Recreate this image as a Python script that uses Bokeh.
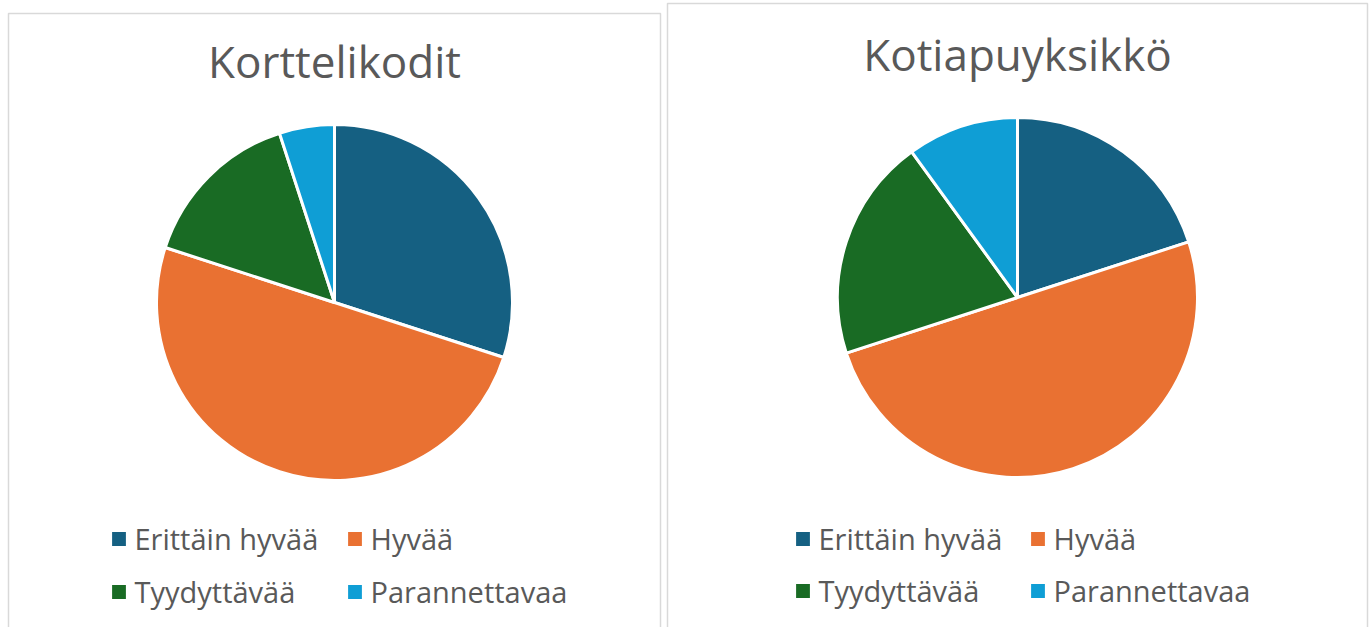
import numpy as np
from bokeh.plotting import figure
from bokeh.models import ColumnDataSource, Legend, LegendItem, Range1d
from bokeh.core.properties import value
from bokeh.embed import file_html
from bokeh.resources import INLINE

# ---- data ----
categories = ["Erittäin hyvää", "Hyvää", "Tyydyttävää", "Parannettavaa"]
colors = ["#156082", "#E97132", "#196B24", "#0F9ED5"]
titles = ["Korttelikodit", "Kotiapuyksikkö"]
korttelikodit = [30, 50, 15, 5]
kotiapuyksikko = [20, 50, 20, 10]

W, H = 1370, 627
p = figure(width=W, height=H, x_range=Range1d(0, W), y_range=Range1d(0, H),
           output_backend="svg", toolbar_location=None, min_border=0)
p.axis.visible = False
p.grid.visible = False
p.outline_line_color = None
p.background_fill_color = "white"
p.border_fill_color = "white"

# panel layout (screen px, y from top)
panels = [
    dict(box=(8, 660, 13), cx=334, cy=302, r=178, tx=334, ty=60,
         leg=(107.5, 343.5), rows=(538, 591)),
    dict(box=(667, 1367, 3), cx=1017, cy=297, r=180, tx=1017, ty=53,
         leg=(791.5, 1026.5), rows=(538, 590)),
]

for vals, title, pn in zip([korttelikodit, kotiapuyksikko], titles, panels):
    l, r_, t = pn["box"]
    p.quad(left=[l], right=[r_], top=[H - t], bottom=[-10],
           fill_color=None, line_color="#D9D9D9", line_width=1.5)

    v = np.array(vals, dtype=float)
    frac = v / v.sum()
    cum = np.concatenate([[0], np.cumsum(frac)])
    start = np.pi / 2 - 2 * np.pi * cum[:-1]
    end = np.pi / 2 - 2 * np.pi * cum[1:]
    src = ColumnDataSource(dict(x=[pn["cx"]] * 4, y=[H - pn["cy"]] * 4,
                                start=start, end=end, color=colors,
                                cat=categories))
    wr = p.wedge(x="x", y="y", radius=pn["r"], start_angle="start",
                 end_angle="end", direction="clock", fill_color="color",
                 line_color="white", line_width=3, source=src)

    p.text(x=[pn["tx"]], y=[H - pn["ty"]], text=[title],
           text_font=value("Open Sans"), text_font_size="44px",
           text_color="#595959", text_align="center", text_baseline="middle")

    row1, row2 = pn["rows"]
    item_h = 40
    spacing = (row2 - row1) - item_h
    for col, x0 in enumerate(pn["leg"]):
        idxs = [col, col + 2]
        items = [LegendItem(label=categories[i], renderers=[wr], index=i) for i in idxs]
        leg = Legend(items=items, orientation="vertical",
                     location=(x0, H - (row2 + item_h / 2)),
                     glyph_width=21, glyph_height=21, label_standoff=6,
                     label_height=item_h, spacing=spacing, padding=0, margin=0,
                     label_text_font="Open Sans", label_text_font_size="29px",
                     label_text_color="#595959", border_line_color=None,
                     background_fill_alpha=0)
        p.add_layout(leg, "center")

open("out.html", "w").write(file_html(p, INLINE))
